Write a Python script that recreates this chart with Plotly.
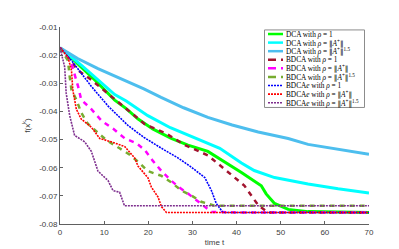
import plotly.graph_objects as go

# ---------------- data ----------------
NB = '<span style="font-family:DejaVu Serif">‖</span>'
names = [
    "DCA with <i>ρ</i> = 1",
    f"DCA with <i>ρ</i> = {NB}<i>A</i><sup>+</sup>{NB}",
    f"DCA with <i>ρ</i> = {NB}<i>A</i><sup>+</sup>{NB}<sup>1.5</sup>",
    "BDCA with <i>ρ</i> = 1",
    f"BDCA with <i>ρ</i> = {NB}<i>A</i><sup>+</sup>{NB}",
    f"BDCA with <i>ρ</i> = {NB}<i>A</i><sup>+</sup>{NB}<sup>1.5</sup>",
    "BDCA<i>e</i> with <i>ρ</i> = 1",
    f"BDCA<i>e</i> with <i>ρ</i> = {NB}<i>A</i><sup>+</sup>{NB}",
    f"BDCA<i>e</i> with <i>ρ</i> = {NB}<i>A</i><sup>+</sup>{NB}<sup>1.5</sup>",
]

t_dca1 = [0, 2, 5, 8, 12.4, 15, 17.7, 21, 25.2, 29, 33.5, 36.5, 41.1, 45.6, 46.7, 48.6, 51.7, 56.2, 62, 70]
f_dca1 = [-0.0174, -0.0200, -0.0245, -0.0290, -0.0360, -0.0390, -0.0427, -0.0462, -0.0496, -0.0520,
          -0.0542, -0.0571, -0.0617, -0.0664, -0.0693, -0.0727, -0.0748, -0.0756, -0.0758, -0.0759]

t_dca2 = [0, 2, 5, 8, 12.4, 15, 19.9, 25, 29, 33.5, 36.2, 41.1, 44, 48.6, 51.7, 56.2, 63, 70]
f_dca2 = [-0.0174, -0.0198, -0.0238, -0.0280, -0.0340, -0.0363, -0.0415, -0.0458, -0.0485, -0.0513,
          -0.0531, -0.0583, -0.0610, -0.0635, -0.0645, -0.0658, -0.0675, -0.0690]

t_dca3 = [0, 4, 8.6, 14.6, 19, 22.9, 28, 33.5, 39, 44.9, 51.7, 56.2, 63, 70]
f_dca3 = [-0.0174, -0.0212, -0.0248, -0.0288, -0.0320, -0.0350, -0.0387, -0.0421, -0.0448, -0.0473,
          -0.0496, -0.0517, -0.0535, -0.0552]

t_bd1 = [0, 4.1, 7.1, 12.4, 16.2, 19.2, 24, 28.2, 33.5, 38.8, 41.8, 43.3, 44.9, 47.1, 55, 70]
f_bd1 = [-0.0174, -0.0254, -0.0288, -0.0358, -0.0405, -0.0445, -0.0478, -0.0519, -0.0556, -0.0623,
         -0.0664, -0.0698, -0.0733, -0.0759, -0.0759, -0.0759]

t_bd2 = [0, 2.6, 4.1, 4.8, 7.1, 9.4, 12, 14.7, 17.3, 19.2, 21, 23, 25.2, 27, 29, 32, 34.3, 40, 70]
f_bd2 = [-0.0174, -0.0231, -0.0311, -0.0358, -0.0392, -0.0433, -0.0461, -0.0496, -0.0513, -0.0537,
         -0.0575, -0.0612, -0.0646, -0.0670, -0.0692, -0.0727, -0.0757, -0.0759, -0.0759]

t_bd3 = [0, 1.8, 2.2, 2.6, 3.7, 4.8, 6.3, 7.9, 10.5, 13.5, 15.8, 18, 19.9, 23, 25.2, 27.5, 29.7, 32, 35, 70]
f_bd3 = [-0.0174, -0.0219, -0.0277, -0.0323, -0.0358, -0.0404, -0.0444, -0.0467, -0.0502, -0.0531,
         -0.0554, -0.0583, -0.0612, -0.0629, -0.0652, -0.0681, -0.0698, -0.0721, -0.0735, -0.0735]

t_be1 = [0, 2.6, 7.1, 10.9, 15.4, 19, 23, 26.7, 29.5, 32.8, 34.3, 35.4, 36.9, 45, 70]
f_be1 = [-0.0174, -0.0219, -0.0311, -0.0381, -0.0450, -0.0492, -0.0531, -0.0565, -0.0595, -0.0635,
         -0.0681, -0.0727, -0.0759, -0.0759, -0.0759]

t_be2 = [0, 1.8, 2.6, 2.9, 3.7, 4.8, 7.1, 9, 11.6, 14.7, 16.9, 17.7, 19.9, 20.7, 22.2, 23, 24.1, 70]
f_be2 = [-0.0174, -0.0207, -0.0254, -0.0323, -0.0392, -0.0427, -0.0456, -0.0496, -0.0508, -0.0525,
         -0.0565, -0.0595, -0.0635, -0.0669, -0.0704, -0.0739, -0.0759, -0.0759]

t_be3 = [0, 1.06, 1.4, 1.8, 2.2, 3.3, 5.6, 7.1, 8.6, 10.9, 12, 13.5, 14.3, 14.6, 70]
f_be3 = [-0.0174, -0.0242, -0.0335, -0.0381, -0.0415, -0.0485, -0.0508, -0.0542, -0.0612, -0.0646,
         -0.0681, -0.0687, -0.0727, -0.0735, -0.0735]

xs = [t_dca1, t_dca2, t_dca3, t_bd1, t_bd2, t_bd3, t_be1, t_be2, t_be3]
ys = [f_dca1, f_dca2, f_dca3, f_bd1, f_bd2, f_bd3, f_be1, f_be2, f_be3]

x_ticks = [0, 10, 20, 30, 40, 50, 60, 70]
y_ticks = [-0.08, -0.07, -0.06, -0.05, -0.04, -0.03, -0.02, -0.01]
y_ticklabels = ["-0.08", "-0.07", "-0.06", "-0.05", "-0.04", "-0.03", "-0.02", "-0.01"]

# ---------------- styles ----------------
colors = ["#00FF00", "#00FFFF", "#4DBEEE", "#A2142F", "#FF00FF", "#77AC30", "#0000FF", "#FF0000", "#7E2F8E"]
widths = [3, 3, 3, 2.5, 2.5, 2.5, 1.6, 1.6, 1.6]
dashes = ["solid", "solid", "solid", "5px,5px", "5px,5px", "5px,5px", "2px,1px", "2px,1px", "2px,1px"]
legend_dashes = ["solid", "solid", "solid", "8px,5px", "8px,5px", "8px,5px", "2px,1px", "2px,1px", "2px,1px"]

W, H = 399, 249
L, R, T, B = 52, 38, 19, 28
pw, ph = W - L - R, H - T - B

def px2x(px):
    return (px - L) / pw

def py2y(py):
    return (H - B - py) / ph

fig = go.Figure()
for x, y, c, w, d, n in zip(xs, ys, colors, widths, dashes, names):
    fig.add_trace(go.Scatter(x=x, y=y, mode="lines", name=n,
                             line=dict(color=c, width=w, dash=d), showlegend=False))

# ---------------- custom legend ----------------
shapes = [dict(type="rect", xref="paper", yref="paper",
               x0=px2x(256.5), x1=px2x(356.5), y0=py2y(101.5), y1=py2y(22),
               line=dict(color="#8c8c8c", width=1), fillcolor="white", layer="above")]
annotations = []
row0, step = 26.2, 8.8
for i, (c, w, d, n) in enumerate(zip(colors, widths, legend_dashes, names)):
    yy = py2y(row0 + i * step)
    lw = min(w, 2.5)
    shapes.append(dict(type="line", xref="paper", yref="paper",
                       x0=px2x(260), x1=px2x(275), y0=yy, y1=yy,
                       line=dict(color=c, width=lw, dash=d), layer="above"))
    annotations.append(dict(xref="paper", yref="paper", x=px2x(275.5), y=yy,
                            text=n, showarrow=False, xanchor="left", yanchor="middle",
                            font=dict(family="Liberation Serif", size=7.3, color="black")))

axis_common = dict(showgrid=False, zeroline=False, showline=True, linecolor="#606060",
                   linewidth=1, ticks="inside", ticklen=3, tickcolor="#606060",
                   tickfont=dict(family="Liberation Sans", size=8, color="#404040"),
                   mirror=False)

fig.update_layout(
    width=W, height=H,
    margin=dict(l=L, r=R, t=T, b=B),
    plot_bgcolor="white", paper_bgcolor="white",
    xaxis=dict(range=[0, 70], tickvals=x_ticks, ticktext=[str(v) for v in x_ticks],
               title=dict(text="time t", font=dict(family="Liberation Sans", size=8, color="#404040"),
                          standoff=3),
               **axis_common),
    yaxis=dict(range=[-0.08, -0.01], tickvals=y_ticks, ticktext=y_ticklabels,
               title=dict(text="f(x<sup>k</sup>)", font=dict(family="Liberation Sans", size=8, color="#404040"),
                          standoff=7),
               **axis_common),
    shapes=shapes,
    annotations=annotations,
    showlegend=False,
)

fig.write_html("out.html")
